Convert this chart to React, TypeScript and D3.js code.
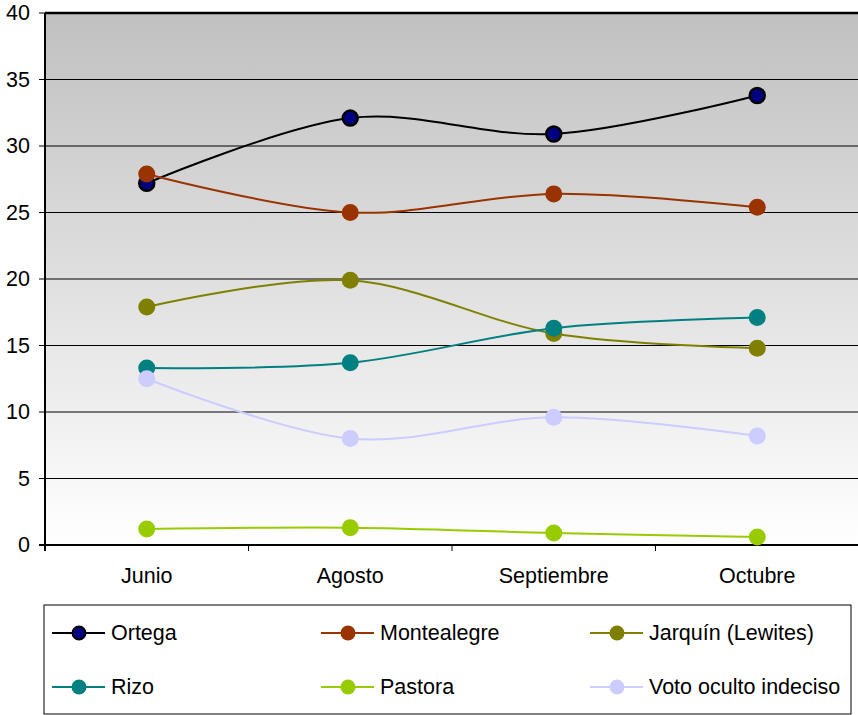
import { useMemo } from 'react';
import * as d3 from 'd3';

const WIDTH = 858;
const HEIGHT = 715;
const MARGIN = { top: 13, right: -1, bottom: 170, left: 45 };

const months = ['Junio', 'Agosto', 'Septiembre', 'Octubre'];
const yTicks = [0, 5, 10, 15, 20, 25, 30, 35, 40];

const ortega = [27.2, 32.1, 30.9, 33.8];
const montealegre = [27.9, 25.0, 26.4, 25.4];
const jarquin = [17.9, 19.9, 15.9, 14.8];
const rizo = [13.3, 13.7, 16.3, 17.1];
const pastora = [1.2, 1.3, 0.9, 0.6];
const votoOculto = [12.5, 8.0, 9.6, 8.2];

const seriesList = [
    { name: 'Ortega', values: ortega, line: '#000000', fill: '#000080', stroke: '#000000' },
    { name: 'Montealegre', values: montealegre, line: '#993300', fill: '#993300', stroke: 'none' },
    { name: 'Jarquín (Lewites)', values: jarquin, line: '#808000', fill: '#808000', stroke: 'none' },
    { name: 'Rizo', values: rizo, line: '#008080', fill: '#008080', stroke: 'none' },
    { name: 'Pastora', values: pastora, line: '#99CC00', fill: '#99CC00', stroke: 'none' },
    { name: 'Voto oculto indeciso', values: votoOculto, line: '#CCCCFF', fill: '#CCCCFF', stroke: 'none' },
];

const FONT = 'Liberation Sans, Arial, sans-serif';
const FONT_SIZE = 21.5;

export default function App() {
    const boundsWidth = WIDTH - MARGIN.left - MARGIN.right;
    const boundsHeight = HEIGHT - MARGIN.top - MARGIN.bottom;

    const xScale = useMemo(() => d3.scaleBand().domain(months).range([0, boundsWidth]), [boundsWidth]);
    const yScale = useMemo(() => d3.scaleLinear().domain([0, 40]).range([boundsHeight, 0]), [boundsHeight]);

    const cx = (m: string) => (xScale(m) ?? 0) + xScale.bandwidth() / 2;

    const lineGen = d3
        .line<number>()
        .x((_, i) => cx(months[i]))
        .y((d) => yScale(d))
        .curve(d3.curveCardinal.tension(0));

    // legend layout
    const legendX = 44;
    const legendY = 605;
    const legendW = 807;
    const legendH = 109;
    const colX = [52, 321, 590];
    const rowY = [633, 687];

    return (
        <svg width={WIDTH} height={HEIGHT} style={{ position: 'absolute', left: 0, top: 0, background: '#fff' }}>
            <defs>
                <linearGradient id="bg" x1="0" y1="0" x2="0" y2="1">
                    <stop offset="0%" stopColor="#c0c0c0" />
                    <stop offset="100%" stopColor="#ffffff" />
                </linearGradient>
            </defs>
            <g transform={`translate(${MARGIN.left},${MARGIN.top})`}>
                <rect x={0} y={0} width={boundsWidth} height={boundsHeight} fill="url(#bg)" />
                {yTicks.map((t) => (
                    <g key={t}>
                        <line x1={0} x2={boundsWidth} y1={yScale(t)} y2={yScale(t)} stroke="#000" strokeWidth={1} />
                        <line x1={-6} x2={0} y1={yScale(t)} y2={yScale(t)} stroke="#000" strokeWidth={1} />
                        <text
                            x={-15}
                            y={yScale(t)}
                            textAnchor="end"
                            dominantBaseline="central"
                            fontFamily={FONT}
                            fontSize={FONT_SIZE}
                            fill="#000"
                        >
                            {t}
                        </text>
                    </g>
                ))}
                <line x1={0} x2={boundsWidth} y1={0} y2={0} stroke="#000" strokeWidth={2.5} />
                {months.map((m, i) => (
                    <g key={m}>
                        {i > 0 && (
                            <line
                                x1={xScale(m)}
                                x2={xScale(m)}
                                y1={boundsHeight}
                                y2={boundsHeight + 6}
                                stroke="#000"
                                strokeWidth={1}
                            />
                        )}
                        <text
                            x={cx(m)}
                            y={boundsHeight + 31}
                            textAnchor="middle"
                            dominantBaseline="central"
                            fontFamily={FONT}
                            fontSize={FONT_SIZE}
                            fill="#000"
                        >
                            {m}
                        </text>
                    </g>
                ))}
                <line x1={0} x2={0} y1={0} y2={boundsHeight + 6} stroke="#000" strokeWidth={2} />
                <line x1={-6} x2={boundsWidth} y1={boundsHeight} y2={boundsHeight} stroke="#000" strokeWidth={2} />
                {seriesList.map((s) => (
                    <g key={s.name}>
                        <path d={lineGen(s.values) ?? ''} fill="none" stroke={s.line} strokeWidth={2} />
                        {s.values.map((v, i) => (
                            <circle
                                key={i}
                                cx={cx(months[i])}
                                cy={yScale(v)}
                                r={s.stroke === 'none' ? 8.5 : 7.5}
                                fill={s.fill}
                                stroke={s.stroke}
                                strokeWidth={s.stroke === 'none' ? 0 : 2.5}
                            />
                        ))}
                    </g>
                ))}
            </g>
            <rect x={legendX} y={legendY} width={legendW} height={legendH} fill="#fff" stroke="#000" strokeWidth={1} />
            {seriesList.map((s, i) => {
                const x = colX[i % 3];
                const y = rowY[Math.floor(i / 3)];
                return (
                    <g key={s.name}>
                        <line x1={x} x2={x + 53} y1={y} y2={y} stroke={s.line} strokeWidth={2} />
                        <circle
                            cx={x + 27}
                            cy={y}
                            r={s.stroke === 'none' ? 7.5 : 6.5}
                            fill={s.fill}
                            stroke={s.stroke}
                            strokeWidth={s.stroke === 'none' ? 0 : 2}
                        />
                        <text x={x + 59} y={y} dominantBaseline="central" fontFamily={FONT} fontSize={FONT_SIZE} fill="#000">
                            {s.name}
                        </text>
                    </g>
                );
            })}
        </svg>
    );
}
